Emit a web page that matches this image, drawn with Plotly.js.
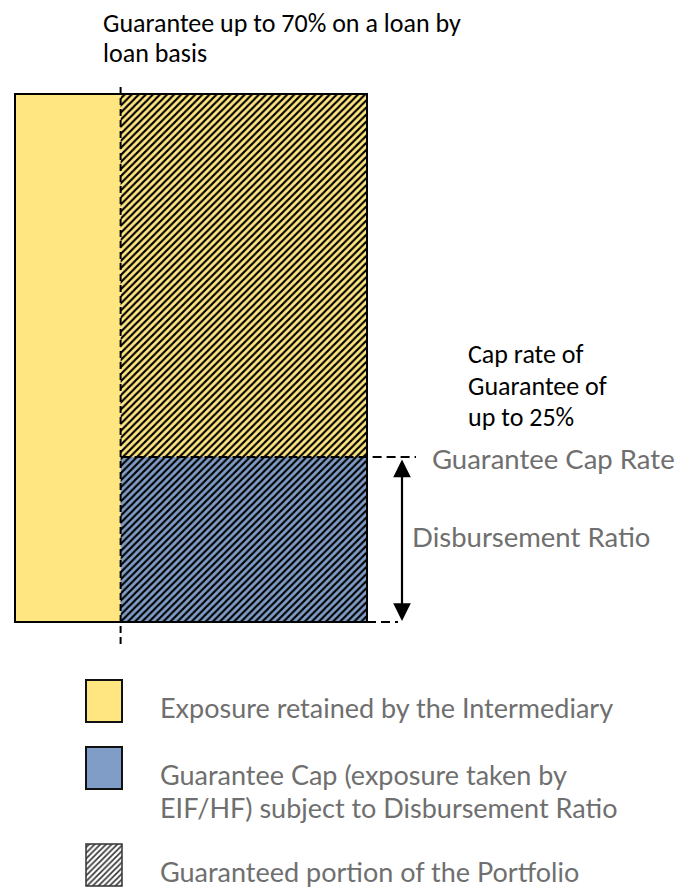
<!DOCTYPE html>
<html>
<head>
<meta charset="utf-8">
<script src="https://cdn.plot.ly/plotly-3.0.1.min.js"></script>
<style>html,body{margin:0;padding:0;background:#fff;}#chart{width:684px;height:887px;}</style>
</head>
<body>
<div id="chart"></div>
<script>
// ---- data (shares of the portfolio, schematic) ----
const retainedShare = 0.30;          // exposure retained by the intermediary
const guaranteedShare = 0.70;        // guarantee up to 70% loan by loan
const capRateLevel = 0.3125;         // guarantee cap rate level (disbursement ratio span)
const topNote = ['Guarantee up to 70% on a loan by', 'loan basis'];
const capNote = ['Cap rate of', 'Guarantee of', 'up to 25%'];
const capRateLabel = 'Guarantee Cap Rate';
const disbLabel = 'Disbursement Ratio';
const legendLabels = [
  ['Exposure retained by the Intermediary'],
  ['Guarantee Cap (exposure taken by', 'EIF/HF) subject to Disbursement Ratio'],
  ['Guaranteed portion of the Portfolio']
];

// ---- styling / layout ----
const W = 684, H = 887;
const YEL = '#FFE680', BLU = '#7F9DC6';
const X0PX = 15, X1PX = 367, Y0PX = 622, Y1PX = 94;
const xd = px => (px - X0PX) / (X1PX - X0PX);
const yd = py => (Y0PX - py) / (Y0PX - Y1PX);
const calibri = 'Carlito, Calibri, Lato, sans-serif';
const futura = 'Lato, sans-serif';
const GREY = '#6f6f6f';

const hatch = bg => ({shape: '/', fgcolor: '#000', bgcolor: bg, size: 5, solidity: 0.42, fillmode: 'replace'});

const traces = [
  {type: 'bar', x: [retainedShare / 2], width: [retainedShare], base: [0], y: [1],
   marker: {color: YEL, line: {width: 0}}, hoverinfo: 'skip'},
  {type: 'bar', x: [retainedShare + guaranteedShare / 2], width: [guaranteedShare], base: [0], y: [capRateLevel],
   marker: {color: BLU, pattern: hatch(BLU), line: {width: 0}}, hoverinfo: 'skip'},
  {type: 'bar', x: [retainedShare + guaranteedShare / 2], width: [guaranteedShare], base: [capRateLevel], y: [1 - capRateLevel],
   marker: {color: YEL, pattern: hatch(YEL), line: {width: 0}}, hoverinfo: 'skip'}
];

// legend keys (bars placed in the legend area)
const KL = 86, KR = 122;
const keyX = (xd(KL) + xd(KR)) / 2, keyW = xd(KR) - xd(KL);
const keyRows = [[680, 722], [747, 789], [844, 886]];
const keyFill = [
  {color: YEL, line: {color: '#111', width: 2}},
  {color: BLU, line: {color: '#111', width: 2}},
  {color: '#fff', pattern: {shape: '/', fgcolor: '#333', bgcolor: '#fff', size: 4, solidity: 0.4}, line: {color: '#333', width: 1.5}}
];
keyRows.forEach((r, i) => {
  traces.push({type: 'bar', x: [keyX], width: [keyW], base: [yd(r[1])], y: [yd(r[0]) - yd(r[1])],
    marker: keyFill[i], hoverinfo: 'skip'});
});

const dashLine = (x0, y0, x1, y1, dash) => ({type: 'line', xref: 'x', yref: 'y', x0, y0, x1, y1,
  line: {color: '#000', width: 2, dash: dash}});

const shapes = [
  {type: 'rect', xref: 'x', yref: 'y', x0: 0, y0: 0, x1: 1, y1: 1, line: {color: '#000', width: 2}, fillcolor: 'rgba(0,0,0,0)'},
  dashLine(retainedShare, yd(87), retainedShare, yd(647), '7px,4px'),
  dashLine(retainedShare, capRateLevel, xd(416), capRateLevel, '9px,5px'),
  dashLine(1, 0, xd(398), 0, '9px,5px')
];

const annotations = [];
const txt = (t, px, py, font) => annotations.push({xref: 'paper', yref: 'paper', x: px / W, y: 1 - py / H,
  xanchor: 'left', yanchor: 'middle', text: t, showarrow: false, font: font, align: 'left'});
const fBlack = {family: calibri, size: 26, color: '#000'};
const fLabel = {family: futura, size: 27.5, color: GREY};
const fLegend = {family: futura, size: 27, color: GREY};
topNote.forEach((t, i) => txt(t, 101, 23 + i * 30, fBlack));
capNote.forEach((t, i) => txt(t, 466, 354 + i * 31.5, fBlack));
txt(capRateLabel, 430, 458, fLabel);
txt(disbLabel, 410, 536, fLabel);
const legY = [707, 774, 807, 871];
let li = 0;
legendLabels.forEach(lines => lines.forEach(t => { txt(t, 158, legY[li], fLegend); li++; }));

// double-headed arrow for disbursement ratio
annotations.push({xref: 'x', yref: 'y', axref: 'x', ayref: 'y', x: xd(402), y: 0.002, ax: xd(402), ay: capRateLevel - 0.002,
  text: '', showarrow: true, arrowside: 'end+start', arrowhead: 2, startarrowhead: 2, arrowwidth: 2.2,
  arrowsize: 1.6, startarrowsize: 1.6, arrowcolor: '#000'});

const layout = {
  width: W, height: H, margin: {l: 0, r: 0, t: 0, b: 0},
  paper_bgcolor: '#fff', plot_bgcolor: '#fff', showlegend: false, barmode: 'overlay',
  xaxis: {range: [xd(0), xd(W)], visible: false, fixedrange: true},
  yaxis: {range: [yd(H), yd(0)], visible: false, fixedrange: true},
  shapes, annotations
};
Plotly.newPlot('chart', traces, layout, {staticPlot: true});
</script>
</body>
</html>
